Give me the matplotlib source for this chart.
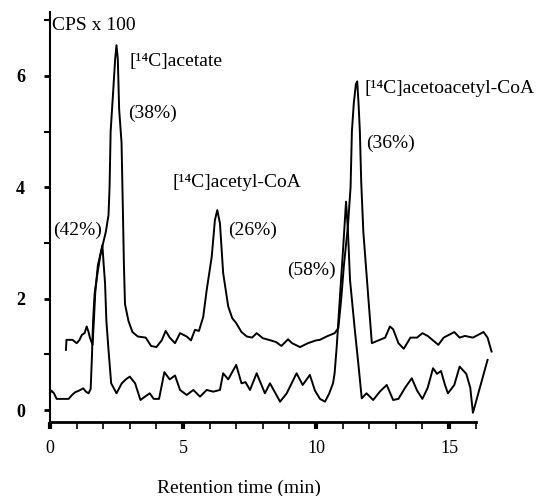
import numpy as np
import matplotlib
matplotlib.use('Agg')
import matplotlib.pyplot as plt
from matplotlib.ticker import MultipleLocator, FixedLocator

plt.rcParams['font.family'] = ['Liberation Serif', 'DejaVu Serif']

# upper trace (offset run)
upper_t = [0.6, 0.62, 0.85, 1.0, 1.1, 1.2, 1.3, 1.38, 1.45, 1.5, 1.6, 1.65, 1.7, 1.8,
           1.95, 2.1, 2.2, 2.24, 2.28, 2.36, 2.45, 2.5, 2.55, 2.6, 2.69, 2.74, 2.78,
           2.82, 2.95, 3.1, 3.3, 3.6, 3.8, 4.0, 4.2, 4.35, 4.5, 4.7, 4.89, 5.14, 5.3,
           5.45, 5.6, 5.76, 5.89, 6.08, 6.2, 6.29, 6.39, 6.51, 6.7, 6.85, 7.0, 7.2,
           7.4, 7.6, 7.77, 8.0, 8.3, 8.5, 8.7, 8.95, 9.1, 9.4, 9.7, 10.0, 10.15, 10.4,
           10.7, 10.84, 10.95, 11.05, 11.2, 11.3, 11.35, 11.42, 11.5, 11.55, 11.6,
           11.65, 11.7, 11.78, 11.97, 12.1, 12.4, 12.6, 12.78, 12.9, 13.1, 13.3, 13.55,
           13.8, 14.0, 14.2, 14.4, 14.6, 14.8, 15.0, 15.2, 15.4, 15.6, 15.9, 16.1,
           16.3, 16.45, 16.6]
upper_y = [1.08, 1.26, 1.26, 1.2, 1.25, 1.35, 1.38, 1.5, 1.4, 1.3, 1.17, 1.6, 2.1, 2.6,
           2.9, 3.2, 3.5, 4.0, 5.0, 5.6, 6.3, 6.55, 6.3, 5.4, 4.8, 3.6, 2.6,
           1.9, 1.6, 1.4, 1.32, 1.3, 1.15, 1.13, 1.25, 1.42, 1.3, 1.2, 1.38, 1.32, 1.25,
           1.44, 1.42, 1.67, 2.15, 2.75, 3.41, 3.59, 3.35, 2.46, 1.86, 1.65, 1.56, 1.4,
           1.32, 1.3, 1.38, 1.29, 1.25, 1.22, 1.15, 1.27, 1.2, 1.13, 1.2, 1.25, 1.26, 1.32,
           1.38, 1.47, 2.0, 2.6, 3.3, 4.0, 5.0, 5.5, 5.85, 5.9, 5.5,
           5.0, 4.1, 3.2, 2.0, 1.2, 1.26, 1.3, 1.5, 1.45, 1.2, 1.1, 1.3,
           1.3, 1.38, 1.33, 1.25, 1.17, 1.3, 1.35, 1.4, 1.3, 1.33, 1.3, 1.35,
           1.4, 1.3, 1.05]

# lower trace
lower_t = [0.0, 0.05, 0.15, 0.25, 0.5, 0.7, 0.85, 0.95, 1.1, 1.25, 1.35, 1.45, 1.53,
           1.58, 1.62, 1.68, 1.8, 1.9, 1.97, 2.02, 2.07, 2.12, 2.2, 2.3, 2.5, 2.7,
           2.85, 3.0, 3.2, 3.4, 3.6, 3.75, 3.9, 4.1, 4.3, 4.5, 4.7, 4.89, 5.14, 5.39,
           5.64, 5.89, 6.14, 6.39, 6.51, 6.7, 7.0, 7.2, 7.35, 7.52, 7.77, 8.08, 8.27,
           8.65, 8.9, 9.27, 9.5, 9.77, 9.96, 10.15, 10.34, 10.5, 10.64, 10.7, 10.78,
           10.9, 11.0, 11.13, 11.2, 11.28, 11.46, 11.59, 11.72, 11.9, 12.15, 12.4,
           12.66, 12.9, 13.1, 13.35, 13.6, 13.8, 14.0, 14.2, 14.4, 14.55, 14.7, 14.85,
           14.96, 15.2, 15.4, 15.65, 15.8, 15.9, 16.45]
lower_y = [0.3, 0.35, 0.3, 0.2, 0.2, 0.2, 0.28, 0.32, 0.35, 0.39, 0.33, 0.3, 0.38,
           1.0, 1.6, 2.1, 2.5, 2.8, 2.96, 2.6, 2.28, 1.6, 1.08, 0.48, 0.3, 0.48,
           0.55, 0.6, 0.48, 0.18, 0.25, 0.3, 0.2, 0.2, 0.68, 0.55, 0.62, 0.36, 0.27, 0.36,
           0.24, 0.36, 0.33, 0.36, 0.66, 0.55, 0.81, 0.48, 0.5, 0.36, 0.66, 0.3, 0.48,
           0.15, 0.3, 0.66, 0.45, 0.63, 0.35, 0.2, 0.15, 0.3, 0.48, 0.66, 1.14,
           2.03, 2.75, 3.74, 3.23, 2.33, 1.44, 0.84, 0.21, 0.3, 0.18, 0.33,
           0.45, 0.18, 0.2, 0.4, 0.57, 0.35, 0.2, 0.4, 0.75, 0.65, 0.7, 0.45,
           0.3, 0.45, 0.78, 0.65, 0.4, -0.05, 0.9]

x_major = [0, 5, 10, 15]
x_minor = list(range(1, 17))
y_major = [0, 2, 4, 6]

fig = plt.figure(figsize=(5.39, 4.96), dpi=100)
ax = fig.add_axes([0.0878, 0.1492, 0.8439, 0.8327])

ax.plot(upper_t, upper_y, color='black', lw=1.4)
ax.plot(lower_t, lower_y, color='black', lw=1.4)

ax.set_xlim(-0.1, 17)
ax.set_ylim(-0.215, 7.2)

ax.spines['top'].set_visible(False)
ax.spines['right'].set_visible(False)
ax.spines['left'].set_position(('data', 0))
ax.spines['left'].set_bounds(-0.215, 7.15)
ax.spines['bottom'].set_bounds(0, 16)
ax.spines['left'].set_linewidth(1.5)
ax.spines['bottom'].set_linewidth(2.0)

ax.xaxis.set_major_locator(FixedLocator(x_major))
ax.xaxis.set_minor_locator(FixedLocator(x_minor))
ax.yaxis.set_major_locator(FixedLocator(y_major))
ax.yaxis.set_minor_locator(MultipleLocator(1))
ax.tick_params(axis='x', which='major', direction='out', length=5, width=3, labelsize=13, pad=8)
ax.tick_params(axis='x', which='minor', direction='out', length=5, width=1.2)
ax.tick_params(axis='y', which='major', direction='out', length=4, width=2, labelsize=13, pad=14)
ax.tick_params(axis='y', which='minor', direction='out', length=4, width=1.5)
for lab in ax.get_yticklabels():
    lab.set_fontweight('bold')

fig.text(0.4434, 0.016, 'Retention time (min)', fontsize=14, ha='center', va='center')

ax.text(0.08, 6.91, 'CPS x 100', fontsize=14, ha='left', va='center')
ax.text(3.0, 6.25, '[\u00b9\u2074C]acetate', fontsize=14, ha='left', va='center')
ax.text(2.93, 5.33, '(38%)', fontsize=14, ha='left', va='center')
ax.text(4.62, 4.08, '[\u00b9\u2074C]acetyl-CoA', fontsize=14, ha='left', va='center')
ax.text(6.69, 3.23, '(26%)', fontsize=14, ha='left', va='center')
ax.text(0.11, 3.23, '(42%)', fontsize=14, ha='left', va='center')
ax.text(8.9, 2.5, '(58%)', fontsize=14, ha='left', va='center')
ax.text(11.84, 5.78, '[\u00b9\u2074C]acetoacetyl-CoA', fontsize=14, ha='left', va='center')
ax.text(11.88, 4.79, '(36%)', fontsize=14, ha='left', va='center')

fig.savefig('out.png', dpi=100)
